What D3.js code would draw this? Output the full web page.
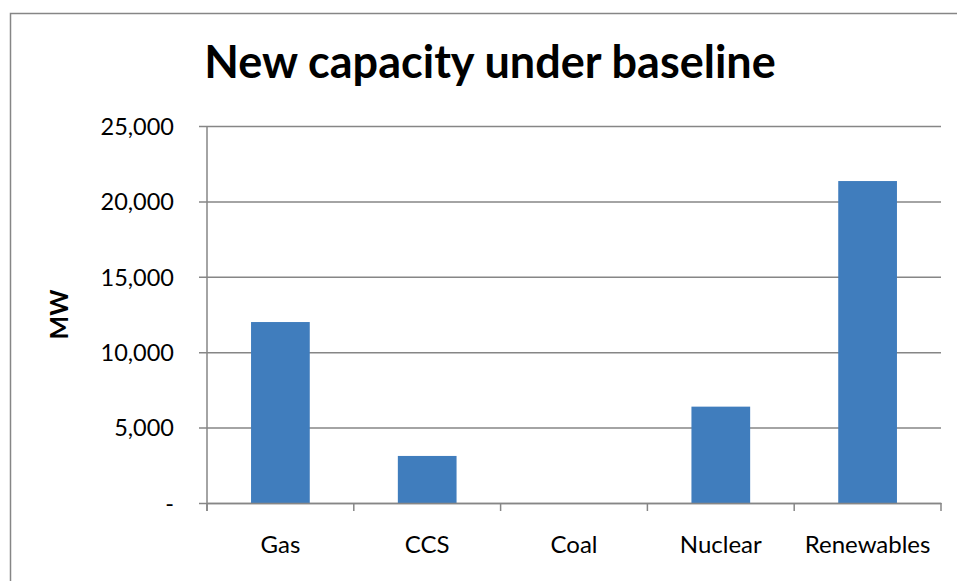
<!DOCTYPE html>
<html>
<head>
<meta charset="utf-8">
<script src="https://cdn.jsdelivr.net/npm/d3@7"></script>
<style>
  html, body { margin: 0; padding: 0; background: #fff; }
  svg { display: block; }
  text { font-family: Lato, "Open Sans", sans-serif; fill: #000; }
</style>
</head>
<body>
<svg id="chart" width="957" height="581"></svg>
<script>
const titleText = "New capacity under baseline";
const yAxisLabel = "MW";
const categories = ["Gas", "CCS", "Coal", "Nuclear", "Renewables"];
const values = [12000, 3120, 0, 6390, 21350];
const yTicks = [0, 5000, 10000, 15000, 20000, 25000];

const W = 957, H = 581;
const margin = { left: 207, right: 16, top: 126, bottom: 78 };
const svg = d3.select("#chart");

// chart area border
svg.append("rect")
  .attr("x", 10.5).attr("y", 13.5)
  .attr("width", W + 20).attr("height", H + 20)
  .attr("fill", "#fff").attr("stroke", "#868686").attr("stroke-width", 1.5);

const x = d3.scaleBand().domain(categories)
  .range([margin.left, W - margin.right])
  .paddingInner(0.6).paddingOuter(0.3);
const xOuter = d3.scaleBand().domain(categories)
  .range([margin.left, W - margin.right]).padding(0);
const y = d3.scaleLinear().domain([0, 25000]).range([H - margin.bottom, margin.top]);

const fmt = v => v === 0 ? "-" : d3.format(",")(v);

// gridlines + y axis
const yAxis = d3.axisLeft(y).tickValues(yTicks).tickFormat(fmt)
  .tickSize(-(W - margin.right - margin.left)).tickPadding(0);
const gy = svg.append("g").attr("transform", `translate(${margin.left},0)`).call(yAxis);
gy.select(".domain").remove();
gy.selectAll(".tick line").attr("stroke", "#868686").attr("stroke-width", 1.5)
  .attr("x1", -8);
gy.selectAll(".tick text").attr("x", -33).attr("dy", "0.35em")
  .style("font-size", "23.5px");

// bars
svg.append("g").selectAll("rect").data(categories).join("rect")
  .attr("x", d => x(d))
  .attr("width", x.bandwidth())
  .attr("y", (d, i) => y(values[i]))
  .attr("height", (d, i) => y(0) - y(values[i]))
  .attr("fill", "#407dbd");

// y axis line
svg.append("line")
  .attr("x1", margin.left).attr("x2", margin.left)
  .attr("y1", margin.top).attr("y2", y(0) + 8)
  .attr("stroke", "#868686").attr("stroke-width", 1.5);

// x axis
const xAxis = d3.axisBottom(xOuter).tickSize(0).tickPadding(0);
const gx = svg.append("g").attr("transform", `translate(0,${y(0)})`).call(xAxis);
gx.select(".domain").attr("stroke", "#868686").attr("stroke-width", 1.5);
gx.selectAll(".tick text").attr("y", 50).attr("dy", 0).style("font-size", "24px");
// category boundary ticks
const bounds = categories.map(c => xOuter(c)).concat([W - margin.right]);
svg.append("g").selectAll("line").data(bounds).join("line")
  .attr("x1", d => d).attr("x2", d => d)
  .attr("y1", y(0)).attr("y2", y(0) + 8)
  .attr("stroke", "#868686").attr("stroke-width", 1.5);

// title
svg.append("text").attr("x", 490).attr("y", 78)
  .attr("text-anchor", "middle")
  .style("font-size", "45px").style("font-weight", "bold")
  .text(titleText);

// y label
svg.append("text")
  .attr("transform", `translate(68,${(y(0) + y(25000)) / 2}) rotate(-90)`)
  .attr("text-anchor", "middle")
  .style("font-size", "25px").style("font-weight", "bold")
  .text(yAxisLabel);
</script>
</body>
</html>
